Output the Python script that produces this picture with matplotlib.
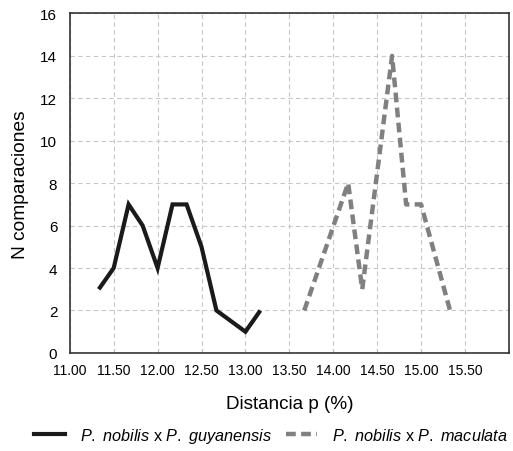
import matplotlib
matplotlib.use("Agg")
import matplotlib.pyplot as plt
import matplotlib.transforms as mtransforms
from matplotlib.lines import Line2D

plt.rcParams['font.family'] = ['Liberation Sans', 'DejaVu Sans']
plt.rcParams['mathtext.fontset'] = 'custom'
plt.rcParams['mathtext.rm'] = 'Liberation Sans'
plt.rcParams['mathtext.it'] = 'Liberation Sans:italic'

# P. nobilis x P. guyanensis
guy_x = [11.33, 11.50, 11.67, 11.83, 12.00, 12.17, 12.33, 12.50, 12.67, 13.00, 13.17]
guy_y = [3, 4, 7, 6, 4, 7, 7, 5, 2, 1, 2]

# P. nobilis x P. maculata
mac_x = [13.67, 14.17, 14.33, 14.67, 14.83, 15.00, 15.33]
mac_y = [2, 8, 3, 14, 7, 7, 2]

x_ticks = [11.0, 11.5, 12.0, 12.5, 13.0, 13.5, 14.0, 14.5, 15.0, 15.5, 16.0]
x_labels = ["11.00", "11.50", "12.00", "12.50", "13.00", "13.50",
            "14.00", "14.50", "15.00", "15.50", ""]
y_ticks = [0, 2, 4, 6, 8, 10, 12, 14, 16]

fig = plt.figure(figsize=(5.13, 4.52), dpi=100)
ax = fig.add_axes([0.136, 0.217, 0.856, 0.751])

ax.plot(guy_x, guy_y, color='#1a1a1a', lw=3.0, solid_capstyle='butt',
        solid_joinstyle='miter')
ax.plot(mac_x, mac_y, color='#808080', lw=3.2, dashes=(2.2, 1.2),
        dash_capstyle='butt')

ax.set_xlim(11, 16)
ax.set_ylim(0, 16)
ax.set_xticks(x_ticks)
ax.set_xticklabels(x_labels, fontsize=10)
ax.set_yticks(y_ticks)
ax.set_yticklabels([str(v) for v in y_ticks], fontsize=11)

# Excel-style labels sit a little to the right of the ticks
offset = mtransforms.ScaledTranslation(5 / 100, 0, fig.dpi_scale_trans)
for lbl in ax.get_xticklabels():
    lbl.set_transform(lbl.get_transform() + offset)

ax.tick_params(axis='x', direction='in', length=3, color='#bbbbbb', pad=7)
ax.tick_params(axis='y', length=0, pad=9)
ax.grid(True, color='#c8c8c8', ls=(0, (4, 3)), lw=0.8)
ax.set_axisbelow(True)
for s in ax.spines.values():
    s.set_color('#333333')
    s.set_linewidth(1.2)

ax.set_xlabel("Distancia p (%)", fontsize=13.6, labelpad=13)
ax.set_ylabel("N comparaciones", fontsize=13.8, labelpad=8)

handles = [
    Line2D([0], [0], color='#1a1a1a', lw=3.0),
    Line2D([0], [0], color='#808080', lw=3.2, dashes=(2.2, 1.2)),
]
labels = [
    r"$\it{P.\ nobilis}$ x $\it{P.\ guyanensis}$",
    r"$\it{P.\ nobilis}$ x $\it{P.\ maculata}$",
]
fig.legend(handles, labels, loc='center', bbox_to_anchor=(0.528, 0.035),
           ncol=2, frameon=False, fontsize=11.7, handlelength=1.9,
           columnspacing=0.9, handletextpad=0.9)

fig.savefig("out.png", dpi=100)
